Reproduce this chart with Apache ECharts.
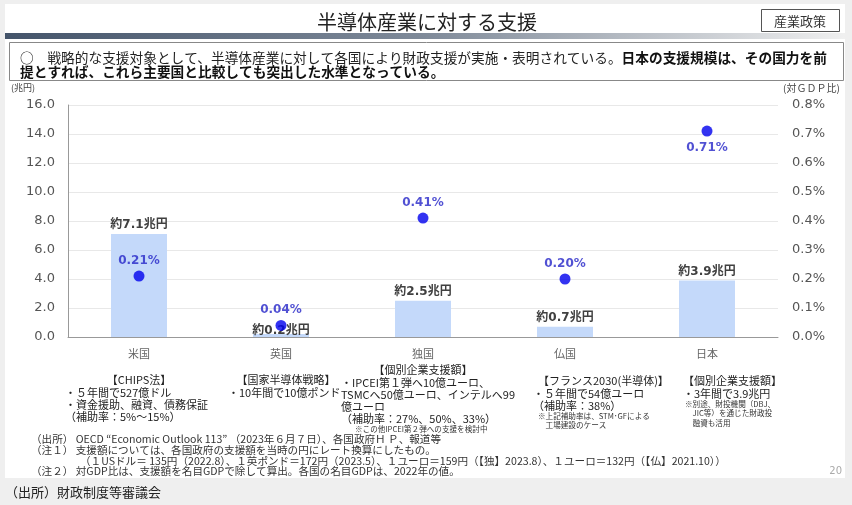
<!DOCTYPE html>
<html>
<head>
<meta charset="utf-8">
<script src="https://cdn.jsdelivr.net/npm/echarts@6/dist/echarts.min.js"></script>
<style>
html,body{margin:0;padding:0;background:#efefef;}
#c{width:852px;height:505px;}
</style>
</head>
<body>
<div id="c"></div>
<script>
// ---- data ----
const categories = ['米国', '英国', '独国', '仏国', '日本'];
const supportTrillionYen = [7.1, 0.2, 2.5, 0.7, 3.9];
const gdpRatioPct = [0.21, 0.04, 0.41, 0.20, 0.71];
const leftAxisName = '(兆円)';
const rightAxisName = '(対ＧＤＰ比)';
const titleText = '半導体産業に対する支援';
const tagText = '産業政策';
const leadNormal = '○　戦略的な支援対象として、半導体産業に対して各国により財政支援が実施・表明されている。';
const leadBold1 = '日本の支援規模は、その国力を前';
const leadBold2 = '提とすれば、これら主要国と比較しても突出した水準となっている。';
const noteHeads = ['【CHIPS法】', '【国家半導体戦略】', '【個別企業支援額】', '【フランス2030(半導体)】', '【個別企業支援額】'];
const noteBodies = [
  ['・５年間で527億ドル', '・資金援助、融資、債務保証', '（補助率：5%～15%）'],
  ['・10年間で10億ポンド'],
  ['・IPCEI第１弾へ10億ユーロ、', 'TSMCへ50億ユーロ、インテルへ99', '億ユーロ', '（補助率：27%、50%、33%）'],
  ['・５年間で54億ユーロ', '（補助率：38%）'],
  ['・3年間で3.9兆円']
];
const noteSmalls = [
  [],
  [],
  ['※この他IPCEI第２弾への支援を検討中'],
  ['※上記補助率は、STM･GFによる', '　工場建設のケース'],
  ['※別途、財投機関（DBJ、', '　JIC等）を通じた財政投', '　融資も活用']
];
const footnotes = [
  '（出所） OECD “Economic Outlook 113” （2023年６月７日）、各国政府Ｈ Ｐ、報道等',
  '（注１） 支援額については、各国政府の支援額を当時の円にレート換算にしたもの。',
  '（１USドル＝ 135円（2022.8）、１英ポンド＝172円（2023.5）、１ユーロ＝159円（【独】2023.8）、１ユーロ＝132円（【仏】2021.10））',
  '（注２） 対GDP比は、支援額を名目GDPで除して算出。各国の名目GDPは、2022年の値。'
];
const sourceText = '（出所）財政制度等審議会';
const pageNo = '20';

// ---- layout / style (not data) ----
const JP = '"Noto Sans CJK JP", sans-serif';
const NUM = '"DejaVu Sans", "Noto Sans CJK JP", sans-serif';
const noteLayout = [
  {y: 380, headAlign: 'center', headDx: 0, bodyDx: -74, smallDx: 0},
  {y: 380, headAlign: 'center', headDx: 5, bodyDx: -53, smallDx: 0},
  {y: 370, headAlign: 'center', headDx: 0, bodyDx: -82, smallDx: -68},
  {y: 381, headAlign: 'left', headDx: -27, bodyDx: -32, smallDx: -27},
  {y: 381, headAlign: 'left', headDx: -24, bodyDx: -24, smallDx: -22}
];
const footLayout = [[31, 439], [31, 450], [80, 461], [31, 471]];

const chart = echarts.init(document.getElementById('c'), null, {renderer: 'canvas'});

const barData = supportTrillionYen.map((v, i) => {
  const item = {value: v};
  if (categories[i] === '英国') item.label = {offset: [0, 6]};
  return item;
});
const dotData = gdpRatioPct.map((v, i) => {
  const item = {value: v};
  if (categories[i] === '日本') item.label = {position: 'bottom', distance: 5};
  return item;
});

const frame = [
  {type: 'rect', z: -10, shape: {x: 5, y: 4, width: 840, height: 474}, style: {fill: '#ffffff'}},
  {type: 'rect', z: -9, shape: {x: 5, y: 33, width: 840, height: 6},
    style: {fill: new echarts.graphic.LinearGradient(0, 0, 1, 0, [
      {offset: 0, color: '#44546a'}, {offset: 0.5, color: '#7f8a99'}, {offset: 1, color: '#f0f0f0'}])}},
  {type: 'text', x: 427, y: 22, style: {text: titleText, font: '20px ' + JP, fill: '#222', align: 'center', verticalAlign: 'middle'}},
  {type: 'rect', shape: {x: 761.5, y: 9.5, width: 78, height: 22}, style: {fill: '#fff', stroke: '#555', lineWidth: 1}},
  {type: 'text', x: 800, y: 21, style: {text: tagText, font: '13px ' + JP, fill: '#333', align: 'center', verticalAlign: 'middle'}},
  {type: 'rect', shape: {x: 9.5, y: 42.5, width: 834, height: 38}, style: {fill: '#fff', stroke: '#888', lineWidth: 1}},
  {type: 'text', x: 20, y: 51, style: {
    text: '{n|' + leadNormal + '}{b|' + leadBold1 + '}\n{b|' + leadBold2 + '}',
    rich: {
      n: {font: '13.7px ' + JP, fill: '#222', lineHeight: 14},
      b: {font: 'bold 13.7px ' + JP, fill: '#111', lineHeight: 14}
    }, align: 'left', verticalAlign: 'top'}},
  {type: 'text', x: 842, y: 471, style: {text: pageNo, font: '10px ' + NUM, fill: '#aaa', align: 'right', verticalAlign: 'middle'}},
  {type: 'text', x: 5, y: 492, style: {text: sourceText, font: '13px ' + JP, fill: '#222', verticalAlign: 'middle'}}
];
footnotes.forEach((t, i) => {
  frame.push({type: 'text', x: footLayout[i][0], y: footLayout[i][1],
    style: {text: t, font: '10.6px ' + JP, fill: '#333', verticalAlign: 'middle'}});
});

chart.setOption({
  backgroundColor: '#efefef',
  animation: false,
  grid: {left: 68, right: 74, top: 105, bottom: 168},
  xAxis: {
    type: 'category', data: categories,
    axisLine: {lineStyle: {color: '#999'}},
    axisTick: {show: false},
    axisLabel: {color: '#666', fontSize: 11, fontFamily: JP, margin: 11}
  },
  yAxis: [
    {type: 'value', min: 0, max: 16, interval: 2, position: 'left',
      name: leftAxisName, nameLocation: 'end', nameGap: 13,
      nameTextStyle: {fontSize: 9, color: '#444', fontFamily: JP, align: 'right', padding: [0, 33, 0, 0]},
      axisLine: {show: true, lineStyle: {color: '#999'}},
      axisTick: {show: false},
      splitLine: {lineStyle: {color: '#e8e8e8'}},
      axisLabel: {color: '#555', fontSize: 13, fontFamily: NUM, margin: 13, formatter: v => v.toFixed(1)}},
    {type: 'value', min: 0, max: 0.8, interval: 0.1, position: 'right',
      name: rightAxisName, nameLocation: 'end', nameGap: 12,
      nameTextStyle: {fontSize: 10, color: '#444', fontFamily: JP, align: 'left', padding: [0, 0, 0, 5]},
      axisLine: {show: false}, axisTick: {show: false}, splitLine: {show: false},
      axisLabel: {color: '#555', fontSize: 13, fontFamily: NUM, margin: 14, formatter: v => v.toFixed(1) + '%'}}
  ],
  series: [
    {type: 'bar', yAxisIndex: 0, data: barData, barWidth: 56,
      itemStyle: {color: '#c4d9fa'},
      label: {show: true, position: 'top', distance: 3, color: '#404040', fontWeight: 'bold', fontSize: 12,
        fontFamily: NUM, formatter: p => '約' + p.value.toFixed(1) + '兆円'}},
    {type: 'scatter', yAxisIndex: 1, data: dotData, symbol: 'circle', symbolSize: 11,
      itemStyle: {color: '#0000ee'},
      label: {show: true, position: 'top', distance: 4, color: '#2626c8', fontWeight: 'bold', fontSize: 12,
        fontFamily: NUM, formatter: p => p.value.toFixed(2) + '%'}}
  ],
  graphic: frame
});

// category annotations placed relative to the axis category centres
const notes = [];
categories.forEach((c, i) => {
  const cx = chart.convertToPixel({xAxisIndex: 0}, i);
  const L = noteLayout[i];
  notes.push({type: 'text', x: cx + L.headDx, y: L.y,
    style: {text: noteHeads[i], font: '11px ' + JP, fill: '#222', align: L.headAlign, verticalAlign: 'middle'}});
  let y = L.y + 12.5;
  noteBodies[i].forEach(t => {
    notes.push({type: 'text', x: cx + L.bodyDx, y: y,
      style: {text: t, font: '11px ' + JP, fill: '#222', align: 'left', verticalAlign: 'middle'}});
    y += 12;
  });
  let sy = y - 12 + 10.5;
  noteSmalls[i].forEach(t => {
    notes.push({type: 'text', x: cx + L.smallDx, y: sy,
      style: {text: t, font: '7.6px ' + JP, fill: '#333', align: 'left', verticalAlign: 'middle'}});
    sy += 9.5;
  });
});
chart.setOption({graphic: frame.concat(notes)});
</script>
</body>
</html>
